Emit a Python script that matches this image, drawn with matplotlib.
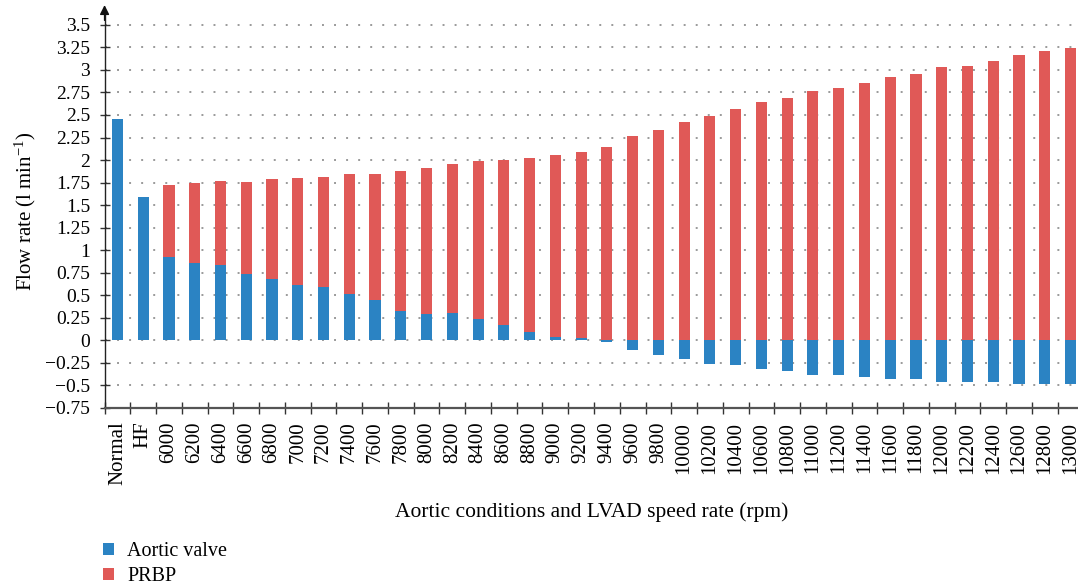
import matplotlib
matplotlib.use("Agg")
import matplotlib.pyplot as plt
import numpy as np

plt.rcParams['font.family'] = ['Liberation Serif', 'DejaVu Serif']
plt.rcParams['mathtext.fontset'] = 'custom'
plt.rcParams['mathtext.rm'] = 'Liberation Serif'
plt.rcParams['mathtext.it'] = 'Liberation Serif:italic'

categories = ["Normal", "HF"] + [str(v) for v in range(6000, 13001, 200)]

aortic_valve = [2.45, 1.585, 0.925, 0.86, 0.836, 0.733, 0.68, 0.615, 0.593, 0.512,
                0.446, 0.324, 0.29, 0.302, 0.236, 0.17, 0.092, 0.037, 0.026, -0.015,
                -0.104, -0.159, -0.203, -0.259, -0.27, -0.314, -0.336, -0.38, -0.38,
                -0.413, -0.425, -0.425, -0.458, -0.458, -0.458, -0.48, -0.48, -0.49]

# top of the red (PRBP) bar
prbp_top = [0.0, 0.0, 1.718, 1.74, 1.773, 1.751, 1.795, 1.806, 1.817, 1.84,
            1.85, 1.873, 1.917, 1.961, 1.994, 2.005, 2.028, 2.061, 2.094, 2.15,
            2.271, 2.337, 2.426, 2.492, 2.57, 2.647, 2.691, 2.768, 2.8,
            2.857, 2.923, 2.957, 3.034, 3.045, 3.1, 3.167, 3.211, 3.244]

yticks = [-0.75, -0.5, -0.25, 0, 0.25, 0.5, 0.75, 1, 1.25, 1.5, 1.75, 2, 2.25,
          2.5, 2.75, 3, 3.25, 3.5]
ytick_labels = ["−0.75", "−0.5", "−0.25", "0", "0.25", "0.5", "0.75", "1", "1.25",
                "1.5", "1.75", "2", "2.25", "2.5", "2.75", "3", "3.25", "3.5"]

blue = "#2b83c3"
red = "#e05957"

av = np.array(aortic_valve)
top = np.array(prbp_top)
bottom_red = np.maximum(av, 0)
red_h = np.where(top > 0, top - bottom_red, 0)

fig = plt.figure(figsize=(10.78, 5.86), dpi=100)
ax = fig.add_axes([0.097, 0.304, 0.903, 0.672])
x = np.arange(len(categories))
w = 0.43
b1 = ax.bar(x, av, width=w, color=blue, label="Aortic valve", zorder=3)
b2 = ax.bar(x, red_h, width=w, bottom=bottom_red, color=red, label="PRBP", zorder=3)

ax.set_xlim(-0.5, 37.29)
ax.set_ylim(-0.75, 3.62)

for yv in yticks:
    if yv == -0.75:
        continue
    ax.axhline(yv, color="#9a9a9a", lw=1.4, ls=(0, (1, 5.2)), zorder=1)

ax.set_yticks(yticks)
ax.set_yticklabels(ytick_labels, fontsize=14)
ax.set_xticks(x - 0.5, minor=False)
ax.set_xticklabels([])
ax.set_xticks(x, minor=True)
ax.set_xticklabels(categories, minor=True, rotation=90, fontsize=15)
ax.tick_params(axis='x', which='minor', length=0, pad=10)
ax.tick_params(axis='x', which='major', direction='inout', length=8.5, width=1.0, color="#333333")
ax.tick_params(axis='y', direction='inout', length=7, width=1.0, color="#333333", pad=7)

for s in ["top", "right"]:
    ax.spines[s].set_visible(False)
ax.spines["left"].set_color("#222222")
ax.spines["left"].set_linewidth(1.0)
ax.spines["bottom"].set_color("#555555")
ax.spines["bottom"].set_linewidth(1.6)

# arrow head on top of y axis
ax.annotate("", xy=(-0.5, 3.72), xytext=(-0.5, 3.55), xycoords='data',
            arrowprops=dict(arrowstyle="-|>", color="#111111", lw=1.0,
                            mutation_scale=14, shrinkA=0, shrinkB=0),
            annotation_clip=False)

ax.set_ylabel("Flow rate (l min$^{-1}$)", fontsize=15, labelpad=5)
ax.set_xlabel("Aortic conditions and LVAD speed rate (rpm)", fontsize=15.5, labelpad=12)

fig.legend(handles=[b1, b2], loc="lower left", bbox_to_anchor=(0.079, -0.031),
           frameon=False, fontsize=14.5, handlelength=0.55, handleheight=0.55,
           handletextpad=0.65, labelspacing=0.3)

fig.savefig("out.png", dpi=100)
